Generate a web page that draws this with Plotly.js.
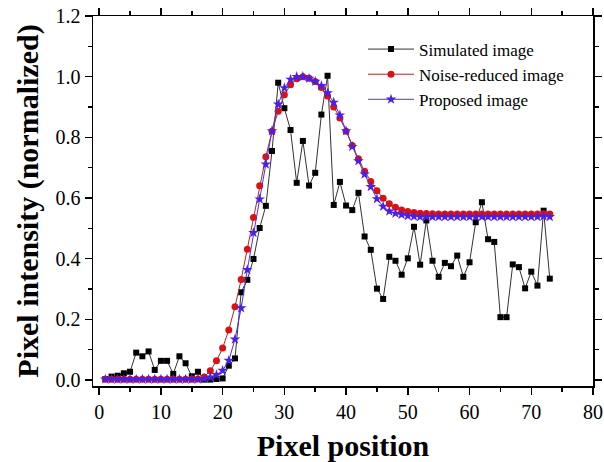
<!DOCTYPE html>
<html>
<head>
<meta charset="utf-8">
<script src="https://cdn.plot.ly/plotly-3.0.1.min.js"></script>
<style>html,body{margin:0;padding:0;background:#fff;}#chart{width:604px;height:462px;}</style>
</head>
<body>
<div id="chart"></div>
<script>
const pixelPosition = [1,2,3,4,5,6,7,8,9,10,11,12,13,14,15,16,17,18,19,20,21,22,23,24,25,26,27,28,29,30,31,32,33,34,35,36,37,38,39,40,41,42,43,44,45,46,47,48,49,50,51,52,53,54,55,56,57,58,59,60,61,62,63,64,65,66,67,68,69,70,71,72,73];

const simulated = [0.003,0.011,0.014,0.022,0.027,0.090,0.078,0.094,0.033,0.063,
  0.063,0.020,0.078,0.055,0.012,0.027,0.001,0.001,0.003,0.005,
  0.047,0.071,0.289,0.330,0.399,0.501,0.574,0.755,0.980,0.896,
  0.824,0.650,0.788,0.641,0.683,0.875,1.003,0.577,0.653,0.575,
  0.560,0.617,0.473,0.429,0.301,0.267,0.406,0.393,0.347,0.401,
  0.505,0.380,0.526,0.393,0.340,0.386,0.375,0.410,0.340,0.388,
  0.520,0.586,0.464,0.455,0.207,0.207,0.381,0.372,0.302,0.357,
  0.311,0.558,0.334];

const noiseReduced = [0.002,0.002,0.002,0.002,0.002,0.002,0.002,0.002,0.002,0.002,
  0.002,0.002,0.002,0.002,0.002,0.003,0.010,0.030,0.063,0.105,
  0.165,0.241,0.331,0.431,0.536,0.640,0.736,0.820,0.886,0.940,
  0.973,0.993,1.000,0.995,0.984,0.964,0.936,0.900,0.864,0.820,
  0.773,0.729,0.688,0.654,0.624,0.599,0.581,0.569,0.560,0.555,
  0.552,0.550,0.549,0.548,0.547,0.547,0.547,0.547,0.547,0.547,
  0.547,0.547,0.547,0.547,0.547,0.547,0.547,0.547,0.547,0.547,
  0.547,0.548,0.547];

const proposed = [0.002,0.002,0.002,0.002,0.002,0.002,0.002,0.002,0.002,0.002,
  0.002,0.002,0.002,0.002,0.002,0.002,0.004,0.009,0.017,0.031,
  0.064,0.134,0.237,0.363,0.485,0.596,0.711,0.821,0.909,0.963,
  0.991,1.000,1.000,0.994,0.984,0.970,0.946,0.915,0.873,0.821,
  0.769,0.722,0.678,0.637,0.597,0.572,0.556,0.549,0.545,0.541,
  0.539,0.538,0.538,0.538,0.538,0.538,0.538,0.538,0.538,0.538,
  0.538,0.538,0.538,0.538,0.538,0.538,0.538,0.538,0.538,0.538,
  0.538,0.540,0.538];

const seriesNames = ['Simulated image','Noise-reduced image','Proposed image'];
const xTitle = 'Pixel position';
const yTitle = 'Pixel intensity (normalized)';
const xRange = [-1, 80];
const yRange = [-0.02, 1.2];

const serif = 'Liberation Serif, Times New Roman, serif';

const traces = [
  {x: pixelPosition, y: simulated, name: seriesNames[0], type: 'scatter', mode: 'lines+markers',
   line: {color: '#333333', width: 1}, marker: {symbol: 'square', size: 6, color: '#000000'}},
  {x: pixelPosition, y: noiseReduced, name: seriesNames[1], type: 'scatter', mode: 'lines+markers',
   line: {color: '#a52a2a', width: 1}, marker: {symbol: 'circle', size: 7, color: '#dd1111'}},
  {x: pixelPosition, y: proposed, name: seriesNames[2], type: 'scatter', mode: 'lines+markers',
   line: {color: '#5030e0', width: 1}, marker: {symbol: 'star', size: 8, color: '#4a1fe8'}}
];

const axisCommon = {
  showgrid: false, zeroline: false, showline: true, linecolor: '#000', linewidth: 1.5,
  ticks: 'outside', tickcolor: '#000', tickwidth: 1.5, ticklen: 7, mirror: 'allticks',
  tickfont: {family: serif, size: 20, color: '#000'}
};

const layout = {
  width: 604, height: 462,
  margin: {l: 93, r: 11, t: 16, b: 76},
  paper_bgcolor: '#fff', plot_bgcolor: '#fff',
  showlegend: true,
  legend: {x: 0.54, y: 0.958, xanchor: 'left', yanchor: 'top', bgcolor: 'rgba(0,0,0,0)',
    font: {family: serif, size: 17, color: '#000'}, itemwidth: 46, tracegroupgap: 0},
  xaxis: Object.assign({}, axisCommon, {
    range: xRange, dtick: 10,
    minor: {dtick: 5, ticks: 'outside', ticklen: 4, tickcolor: '#000', tickwidth: 1.5},
    title: {text: xTitle, font: {family: serif, size: 30, color: '#000', weight: 'bold'}, standoff: 14}
  }),
  yaxis: Object.assign({}, axisCommon, {
    range: yRange, dtick: 0.2, tickformat: '.1f',
    minor: {dtick: 0.1, ticks: 'outside', ticklen: 4, tickcolor: '#000', tickwidth: 1.5},
    title: {text: yTitle, font: {family: serif, size: 30, color: '#000', weight: 'bold'}, standoff: 8}
  })
};

Plotly.newPlot('chart', traces, layout, {staticPlot: true, displayModeBar: false});
</script>
</body>
</html>
